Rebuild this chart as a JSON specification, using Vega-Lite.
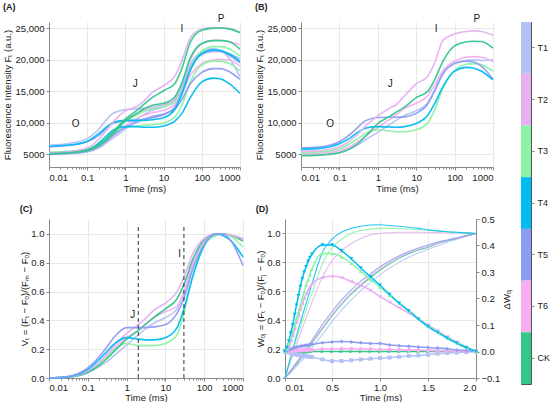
{
"$schema": "https://vega.github.io/schema/vega-lite/v6.json",
"background": "white",
"padding": {"left": 2, "top": 3, "right": 0, "bottom": 0},
"config": {
 "view": {"stroke": null},
 "font": "Liberation Sans",
 "axis": {"labelFontSize": 9.5, "titleFontSize": 9.5, "titleFontWeight": "normal", "labelColor": "#222", "titleColor": "#222", "domainColor": "#888", "tickColor": "#888", "tickSize": 3, "gridColor": "#e8e8e8", "labelPadding": 2, "titlePadding": 2, "labelOverlap": false},
 "title": {"fontSize": 9, "fontWeight": "bold", "anchor": "start", "frame": "bounds", "color": "#222"},
 "legend": {"disable": true}
},
"datasets": {
 "A": [
{"s":"a11","g":"T1","t":0.01,"v":5000},{"s":"a11","g":"T1","t":0.03,"v":5100},{"s":"a11","g":"T1","t":0.1,"v":5400},{"s":"a11","g":"T1","t":0.2,"v":6000},{"s":"a11","g":"T1","t":0.3,"v":6700},{"s":"a11","g":"T1","t":0.5,"v":7700},{"s":"a11","g":"T1","t":1,"v":9000},{"s":"a11","g":"T1","t":2,"v":10500},{"s":"a11","g":"T1","t":3,"v":11300},{"s":"a11","g":"T1","t":5,"v":12000},{"s":"a11","g":"T1","t":10,"v":12500},{"s":"a11","g":"T1","t":20,"v":13500},{"s":"a11","g":"T1","t":30,"v":15500},{"s":"a11","g":"T1","t":50,"v":19000},{"s":"a11","g":"T1","t":100,"v":20800},{"s":"a11","g":"T1","t":200,"v":21300},{"s":"a11","g":"T1","t":300,"v":21300},{"s":"a11","g":"T1","t":500,"v":21000},{"s":"a11","g":"T1","t":1000,"v":20200},
{"s":"a6","g":"T1","t":0.01,"v":6500},{"s":"a6","g":"T1","t":0.03,"v":6700},{"s":"a6","g":"T1","t":0.1,"v":7500},{"s":"a6","g":"T1","t":0.2,"v":9000},{"s":"a6","g":"T1","t":0.3,"v":10300},{"s":"a6","g":"T1","t":0.5,"v":11600},{"s":"a6","g":"T1","t":1,"v":12100},{"s":"a6","g":"T1","t":2,"v":12200},{"s":"a6","g":"T1","t":3,"v":12300},{"s":"a6","g":"T1","t":5,"v":12500},{"s":"a6","g":"T1","t":10,"v":12900},{"s":"a6","g":"T1","t":20,"v":13700},{"s":"a6","g":"T1","t":30,"v":15500},{"s":"a6","g":"T1","t":50,"v":19300},{"s":"a6","g":"T1","t":100,"v":21300},{"s":"a6","g":"T1","t":200,"v":21800},{"s":"a6","g":"T1","t":300,"v":21500},{"s":"a6","g":"T1","t":500,"v":20400},{"s":"a6","g":"T1","t":1000,"v":17300},
{"s":"a7","g":"T6","t":0.01,"v":5200},{"s":"a7","g":"T6","t":0.03,"v":5300},{"s":"a7","g":"T6","t":0.1,"v":5600},{"s":"a7","g":"T6","t":0.2,"v":6300},{"s":"a7","g":"T6","t":0.3,"v":7000},{"s":"a7","g":"T6","t":0.5,"v":8100},{"s":"a7","g":"T6","t":1,"v":9600},{"s":"a7","g":"T6","t":2,"v":10700},{"s":"a7","g":"T6","t":3,"v":11200},{"s":"a7","g":"T6","t":5,"v":11600},{"s":"a7","g":"T6","t":10,"v":12000},{"s":"a7","g":"T6","t":20,"v":13000},{"s":"a7","g":"T6","t":30,"v":14700},{"s":"a7","g":"T6","t":50,"v":17500},{"s":"a7","g":"T6","t":100,"v":19400},{"s":"a7","g":"T6","t":200,"v":20000},{"s":"a7","g":"T6","t":300,"v":20100},{"s":"a7","g":"T6","t":500,"v":20000},{"s":"a7","g":"T6","t":1000,"v":19000},
{"s":"a8","g":"T3","t":0.01,"v":5300},{"s":"a8","g":"T3","t":0.03,"v":5400},{"s":"a8","g":"T3","t":0.1,"v":5700},{"s":"a8","g":"T3","t":0.2,"v":6500},{"s":"a8","g":"T3","t":0.3,"v":7300},{"s":"a8","g":"T3","t":0.5,"v":8300},{"s":"a8","g":"T3","t":1,"v":9300},{"s":"a8","g":"T3","t":2,"v":9500},{"s":"a8","g":"T3","t":3,"v":9600},{"s":"a8","g":"T3","t":5,"v":9700},{"s":"a8","g":"T3","t":10,"v":10000},{"s":"a8","g":"T3","t":20,"v":11000},{"s":"a8","g":"T3","t":30,"v":12800},{"s":"a8","g":"T3","t":50,"v":16500},{"s":"a8","g":"T3","t":100,"v":19200},{"s":"a8","g":"T3","t":200,"v":19800},{"s":"a8","g":"T3","t":300,"v":19800},{"s":"a8","g":"T3","t":500,"v":19500},{"s":"a8","g":"T3","t":1000,"v":18300},
{"s":"a9","g":"T5","t":0.01,"v":5000},{"s":"a9","g":"T5","t":0.03,"v":5150},{"s":"a9","g":"T5","t":0.1,"v":5500},{"s":"a9","g":"T5","t":0.2,"v":6200},{"s":"a9","g":"T5","t":0.3,"v":7000},{"s":"a9","g":"T5","t":0.5,"v":8100},{"s":"a9","g":"T5","t":1,"v":9300},{"s":"a9","g":"T5","t":2,"v":10100},{"s":"a9","g":"T5","t":3,"v":10600},{"s":"a9","g":"T5","t":5,"v":11000},{"s":"a9","g":"T5","t":10,"v":11400},{"s":"a9","g":"T5","t":20,"v":12200},{"s":"a9","g":"T5","t":30,"v":13700},{"s":"a9","g":"T5","t":50,"v":16200},{"s":"a9","g":"T5","t":100,"v":18000},{"s":"a9","g":"T5","t":200,"v":18600},{"s":"a9","g":"T5","t":300,"v":18600},{"s":"a9","g":"T5","t":500,"v":18200},{"s":"a9","g":"T5","t":1000,"v":16900},
{"s":"a12","g":"T6","t":0.01,"v":5300},{"s":"a12","g":"T6","t":0.03,"v":5450},{"s":"a12","g":"T6","t":0.1,"v":5800},{"s":"a12","g":"T6","t":0.2,"v":6600},{"s":"a12","g":"T6","t":0.3,"v":7500},{"s":"a12","g":"T6","t":0.5,"v":8800},{"s":"a12","g":"T6","t":1,"v":10500},{"s":"a12","g":"T6","t":2,"v":11500},{"s":"a12","g":"T6","t":3,"v":12000},{"s":"a12","g":"T6","t":5,"v":12300},{"s":"a12","g":"T6","t":10,"v":12700},{"s":"a12","g":"T6","t":20,"v":13900},{"s":"a12","g":"T6","t":30,"v":16200},{"s":"a12","g":"T6","t":50,"v":20000},{"s":"a12","g":"T6","t":100,"v":22600},{"s":"a12","g":"T6","t":200,"v":23100},{"s":"a12","g":"T6","t":300,"v":23100},{"s":"a12","g":"T6","t":500,"v":22900},{"s":"a12","g":"T6","t":1000,"v":22400},
{"s":"a4","g":"T3","t":0.01,"v":5300},{"s":"a4","g":"T3","t":0.03,"v":5450},{"s":"a4","g":"T3","t":0.1,"v":5800},{"s":"a4","g":"T3","t":0.2,"v":6700},{"s":"a4","g":"T3","t":0.3,"v":7500},{"s":"a4","g":"T3","t":0.5,"v":8700},{"s":"a4","g":"T3","t":1,"v":10300},{"s":"a4","g":"T3","t":2,"v":11200},{"s":"a4","g":"T3","t":3,"v":11800},{"s":"a4","g":"T3","t":5,"v":12200},{"s":"a4","g":"T3","t":10,"v":12600},{"s":"a4","g":"T3","t":20,"v":13300},{"s":"a4","g":"T3","t":30,"v":15000},{"s":"a4","g":"T3","t":50,"v":18700},{"s":"a4","g":"T3","t":100,"v":21400},{"s":"a4","g":"T3","t":200,"v":22100},{"s":"a4","g":"T3","t":300,"v":22100},{"s":"a4","g":"T3","t":500,"v":21800},{"s":"a4","g":"T3","t":1000,"v":20600},
{"s":"a13","g":"T5","t":0.01,"v":6200},{"s":"a13","g":"T5","t":0.03,"v":6400},{"s":"a13","g":"T5","t":0.1,"v":7000},{"s":"a13","g":"T5","t":0.2,"v":8000},{"s":"a13","g":"T5","t":0.3,"v":9000},{"s":"a13","g":"T5","t":0.5,"v":10000},{"s":"a13","g":"T5","t":1,"v":10300},{"s":"a13","g":"T5","t":2,"v":10400},{"s":"a13","g":"T5","t":3,"v":10500},{"s":"a13","g":"T5","t":5,"v":10800},{"s":"a13","g":"T5","t":10,"v":11300},{"s":"a13","g":"T5","t":20,"v":12500},{"s":"a13","g":"T5","t":30,"v":14800},{"s":"a13","g":"T5","t":50,"v":18500},{"s":"a13","g":"T5","t":100,"v":21000},{"s":"a13","g":"T5","t":200,"v":21500},{"s":"a13","g":"T5","t":300,"v":21400},{"s":"a13","g":"T5","t":500,"v":20800},{"s":"a13","g":"T5","t":1000,"v":19500},
{"s":"a10","g":"T4","t":0.01,"v":5200},{"s":"a10","g":"T4","t":0.03,"v":5350},{"s":"a10","g":"T4","t":0.1,"v":5700},{"s":"a10","g":"T4","t":0.2,"v":6800},{"s":"a10","g":"T4","t":0.3,"v":7800},{"s":"a10","g":"T4","t":0.5,"v":8900},{"s":"a10","g":"T4","t":1,"v":9400},{"s":"a10","g":"T4","t":2,"v":9400},{"s":"a10","g":"T4","t":3,"v":9300},{"s":"a10","g":"T4","t":5,"v":9300},{"s":"a10","g":"T4","t":10,"v":9500},{"s":"a10","g":"T4","t":20,"v":10300},{"s":"a10","g":"T4","t":30,"v":11500},{"s":"a10","g":"T4","t":50,"v":14000},{"s":"a10","g":"T4","t":100,"v":16500},{"s":"a10","g":"T4","t":200,"v":17100},{"s":"a10","g":"T4","t":300,"v":17000},{"s":"a10","g":"T4","t":500,"v":16300},{"s":"a10","g":"T4","t":1000,"v":14700},
{"s":"a5","g":"T4","t":0.01,"v":6300},{"s":"a5","g":"T4","t":0.03,"v":6450},{"s":"a5","g":"T4","t":0.1,"v":7100},{"s":"a5","g":"T4","t":0.2,"v":8300},{"s":"a5","g":"T4","t":0.3,"v":9200},{"s":"a5","g":"T4","t":0.5,"v":10100},{"s":"a5","g":"T4","t":1,"v":10400},{"s":"a5","g":"T4","t":2,"v":10400},{"s":"a5","g":"T4","t":3,"v":10400},{"s":"a5","g":"T4","t":5,"v":10500},{"s":"a5","g":"T4","t":10,"v":10800},{"s":"a5","g":"T4","t":20,"v":12200},{"s":"a5","g":"T4","t":30,"v":14500},{"s":"a5","g":"T4","t":50,"v":18300},{"s":"a5","g":"T4","t":100,"v":21000},{"s":"a5","g":"T4","t":200,"v":21600},{"s":"a5","g":"T4","t":300,"v":21500},{"s":"a5","g":"T4","t":500,"v":21000},{"s":"a5","g":"T4","t":1000,"v":19800},
{"s":"a3","g":"CK","t":0.01,"v":5100},{"s":"a3","g":"CK","t":0.03,"v":5250},{"s":"a3","g":"CK","t":0.1,"v":5600},{"s":"a3","g":"CK","t":0.2,"v":6400},{"s":"a3","g":"CK","t":0.3,"v":7200},{"s":"a3","g":"CK","t":0.5,"v":8400},{"s":"a3","g":"CK","t":1,"v":10300},{"s":"a3","g":"CK","t":2,"v":11500},{"s":"a3","g":"CK","t":3,"v":12200},{"s":"a3","g":"CK","t":5,"v":12800},{"s":"a3","g":"CK","t":10,"v":13100},{"s":"a3","g":"CK","t":20,"v":14200},{"s":"a3","g":"CK","t":30,"v":16300},{"s":"a3","g":"CK","t":50,"v":20300},{"s":"a3","g":"CK","t":100,"v":22600},{"s":"a3","g":"CK","t":200,"v":23050},{"s":"a3","g":"CK","t":300,"v":23050},{"s":"a3","g":"CK","t":500,"v":22900},{"s":"a3","g":"CK","t":1000,"v":21700},
{"s":"a2","g":"T2","t":0.01,"v":5200},{"s":"a2","g":"T2","t":0.03,"v":5350},{"s":"a2","g":"T2","t":0.1,"v":6000},{"s":"a2","g":"T2","t":0.2,"v":7400},{"s":"a2","g":"T2","t":0.3,"v":8600},{"s":"a2","g":"T2","t":0.5,"v":10300},{"s":"a2","g":"T2","t":1,"v":11900},{"s":"a2","g":"T2","t":2,"v":12600},{"s":"a2","g":"T2","t":3,"v":13400},{"s":"a2","g":"T2","t":5,"v":14800},{"s":"a2","g":"T2","t":10,"v":15900},{"s":"a2","g":"T2","t":20,"v":17500},{"s":"a2","g":"T2","t":30,"v":19800},{"s":"a2","g":"T2","t":50,"v":23500},{"s":"a2","g":"T2","t":100,"v":24900},{"s":"a2","g":"T2","t":200,"v":25100},{"s":"a2","g":"T2","t":300,"v":25100},{"s":"a2","g":"T2","t":500,"v":24900},{"s":"a2","g":"T2","t":1000,"v":24400},
{"s":"a1","g":"CK","t":0.01,"v":5100},{"s":"a1","g":"CK","t":0.03,"v":5250},{"s":"a1","g":"CK","t":0.1,"v":5700},{"s":"a1","g":"CK","t":0.2,"v":6600},{"s":"a1","g":"CK","t":0.3,"v":7400},{"s":"a1","g":"CK","t":0.5,"v":8700},{"s":"a1","g":"CK","t":1,"v":10600},{"s":"a1","g":"CK","t":2,"v":12000},{"s":"a1","g":"CK","t":3,"v":12900},{"s":"a1","g":"CK","t":5,"v":14000},{"s":"a1","g":"CK","t":10,"v":15100},{"s":"a1","g":"CK","t":20,"v":16300},{"s":"a1","g":"CK","t":30,"v":18600},{"s":"a1","g":"CK","t":50,"v":22800},{"s":"a1","g":"CK","t":100,"v":24700},{"s":"a1","g":"CK","t":200,"v":25000},{"s":"a1","g":"CK","t":300,"v":25050},{"s":"a1","g":"CK","t":500,"v":24950},{"s":"a1","g":"CK","t":1000,"v":24300}
 ],
 "labA": [{"t":0.05,"v":9830,"lab":"O"},{"t":1.8,"v":16230,"lab":"J"},{"t":30,"v":24900,"lab":"I"},{"t":320,"v":26400,"lab":"P"}],
 "labB": [{"t":0.057,"v":9830,"lab":"O"},{"t":2.1,"v":16230,"lab":"J"},{"t":33,"v":24900,"lab":"I"},{"t":380,"v":26400,"lab":"P"}],
 "B": [
{"g":"T1","t":0.01,"v":4900},{"g":"T1","t":0.03,"v":4980},{"g":"T1","t":0.1,"v":5300},{"g":"T1","t":0.2,"v":5900},{"g":"T1","t":0.3,"v":6500},{"g":"T1","t":0.5,"v":7400},{"g":"T1","t":1,"v":8500},{"g":"T1","t":2,"v":9700},{"g":"T1","t":3,"v":10400},{"g":"T1","t":5,"v":11200},{"g":"T1","t":10,"v":11900},{"g":"T1","t":20,"v":13200},{"g":"T1","t":30,"v":15200},{"g":"T1","t":50,"v":18000},{"g":"T1","t":100,"v":19500},{"g":"T1","t":200,"v":19900},{"g":"T1","t":300,"v":20000},{"g":"T1","t":500,"v":19900},{"g":"T1","t":1000,"v":20000},
{"g":"T6","t":0.01,"v":5100},{"g":"T6","t":0.03,"v":5200},{"g":"T6","t":0.1,"v":5600},{"g":"T6","t":0.2,"v":6300},{"g":"T6","t":0.3,"v":7000},{"g":"T6","t":0.5,"v":8000},{"g":"T6","t":1,"v":9300},{"g":"T6","t":2,"v":10500},{"g":"T6","t":3,"v":11300},{"g":"T6","t":5,"v":12300},{"g":"T6","t":10,"v":13100},{"g":"T6","t":20,"v":14300},{"g":"T6","t":30,"v":16000},{"g":"T6","t":50,"v":18300},{"g":"T6","t":100,"v":19800},{"g":"T6","t":200,"v":20400},{"g":"T6","t":300,"v":20500},{"g":"T6","t":500,"v":20400},{"g":"T6","t":1000,"v":19700},
{"g":"T3","t":0.01,"v":5300},{"g":"T3","t":0.03,"v":5400},{"g":"T3","t":0.1,"v":5900},{"g":"T3","t":0.2,"v":6800},{"g":"T3","t":0.3,"v":7500},{"g":"T3","t":0.5,"v":8400},{"g":"T3","t":1,"v":8900},{"g":"T3","t":2,"v":8700},{"g":"T3","t":3,"v":8600},{"g":"T3","t":5,"v":8600},{"g":"T3","t":10,"v":8900},{"g":"T3","t":20,"v":10000},{"g":"T3","t":30,"v":12000},{"g":"T3","t":50,"v":15500},{"g":"T3","t":100,"v":18300},{"g":"T3","t":200,"v":19300},{"g":"T3","t":300,"v":19400},{"g":"T3","t":500,"v":19200},{"g":"T3","t":1000,"v":18200},
{"g":"T5","t":0.01,"v":6000},{"g":"T5","t":0.03,"v":6150},{"g":"T5","t":0.1,"v":7000},{"g":"T5","t":0.2,"v":8300},{"g":"T5","t":0.3,"v":9300},{"g":"T5","t":0.5,"v":10400},{"g":"T5","t":1,"v":10850},{"g":"T5","t":2,"v":10900},{"g":"T5","t":3,"v":10900},{"g":"T5","t":5,"v":10950},{"g":"T5","t":10,"v":11500},{"g":"T5","t":20,"v":13000},{"g":"T5","t":30,"v":15000},{"g":"T5","t":50,"v":17800},{"g":"T5","t":100,"v":19400},{"g":"T5","t":200,"v":19800},{"g":"T5","t":300,"v":19700},{"g":"T5","t":500,"v":19000},{"g":"T5","t":1000,"v":16900},
{"g":"T4","t":0.01,"v":5800},{"g":"T4","t":0.03,"v":5950},{"g":"T4","t":0.1,"v":6700},{"g":"T4","t":0.2,"v":7700},{"g":"T4","t":0.3,"v":8500},{"g":"T4","t":0.5,"v":9200},{"g":"T4","t":1,"v":9400},{"g":"T4","t":2,"v":9350},{"g":"T4","t":3,"v":9300},{"g":"T4","t":5,"v":9400},{"g":"T4","t":10,"v":9900},{"g":"T4","t":20,"v":11200},{"g":"T4","t":30,"v":13000},{"g":"T4","t":50,"v":15800},{"g":"T4","t":100,"v":18200},{"g":"T4","t":200,"v":18800},{"g":"T4","t":300,"v":18700},{"g":"T4","t":500,"v":18200},{"g":"T4","t":1000,"v":16800},
{"g":"CK","t":0.01,"v":4800},{"g":"CK","t":0.03,"v":4880},{"g":"CK","t":0.1,"v":5250},{"g":"CK","t":0.2,"v":6000},{"g":"CK","t":0.3,"v":6700},{"g":"CK","t":0.5,"v":8000},{"g":"CK","t":1,"v":9900},{"g":"CK","t":2,"v":11000},{"g":"CK","t":3,"v":11700},{"g":"CK","t":5,"v":12500},{"g":"CK","t":10,"v":14000},{"g":"CK","t":20,"v":15000},{"g":"CK","t":30,"v":16800},{"g":"CK","t":50,"v":19800},{"g":"CK","t":100,"v":22200},{"g":"CK","t":200,"v":22850},{"g":"CK","t":300,"v":22950},{"g":"CK","t":500,"v":22900},{"g":"CK","t":1000,"v":21850},
{"g":"T2","t":0.01,"v":5500},{"g":"T2","t":0.03,"v":5600},{"g":"T2","t":0.1,"v":6200},{"g":"T2","t":0.2,"v":7300},{"g":"T2","t":0.3,"v":8200},{"g":"T2","t":0.5,"v":9600},{"g":"T2","t":1,"v":11100},{"g":"T2","t":2,"v":12300},{"g":"T2","t":3,"v":12900},{"g":"T2","t":5,"v":14300},{"g":"T2","t":10,"v":16200},{"g":"T2","t":20,"v":17400},{"g":"T2","t":30,"v":19500},{"g":"T2","t":50,"v":23100},{"g":"T2","t":100,"v":24100},{"g":"T2","t":200,"v":24500},{"g":"T2","t":300,"v":24600},{"g":"T2","t":500,"v":24500},{"g":"T2","t":1000,"v":23900}
 ],
 "C": [
{"g":"T1","t":0.01,"v":0},{"g":"T1","t":0.03,"v":0.005},{"g":"T1","t":0.1,"v":0.035},{"g":"T1","t":0.2,"v":0.08},{"g":"T1","t":0.3,"v":0.11},{"g":"T1","t":0.5,"v":0.16},{"g":"T1","t":1,"v":0.23},{"g":"T1","t":2,"v":0.3},{"g":"T1","t":3,"v":0.34},{"g":"T1","t":5,"v":0.38},{"g":"T1","t":10,"v":0.42},{"g":"T1","t":20,"v":0.48},{"g":"T1","t":30,"v":0.58},{"g":"T1","t":50,"v":0.78},{"g":"T1","t":100,"v":0.95},{"g":"T1","t":200,"v":0.99},{"g":"T1","t":300,"v":1.0},{"g":"T1","t":500,"v":0.99},{"g":"T1","t":1000,"v":0.97},
{"g":"T6","t":0.01,"v":0},{"g":"T6","t":0.03,"v":0.006},{"g":"T6","t":0.1,"v":0.045},{"g":"T6","t":0.2,"v":0.1},{"g":"T6","t":0.3,"v":0.145},{"g":"T6","t":0.5,"v":0.21},{"g":"T6","t":1,"v":0.28},{"g":"T6","t":2,"v":0.33},{"g":"T6","t":3,"v":0.37},{"g":"T6","t":5,"v":0.42},{"g":"T6","t":10,"v":0.46},{"g":"T6","t":20,"v":0.5},{"g":"T6","t":30,"v":0.6},{"g":"T6","t":50,"v":0.8},{"g":"T6","t":100,"v":0.95},{"g":"T6","t":200,"v":0.99},{"g":"T6","t":300,"v":1.0},{"g":"T6","t":500,"v":0.99},{"g":"T6","t":1000,"v":0.96},
{"g":"T3","t":0.01,"v":0},{"g":"T3","t":0.03,"v":0.007},{"g":"T3","t":0.1,"v":0.05},{"g":"T3","t":0.2,"v":0.1},{"g":"T3","t":0.3,"v":0.14},{"g":"T3","t":0.5,"v":0.2},{"g":"T3","t":1,"v":0.24},{"g":"T3","t":2,"v":0.225},{"g":"T3","t":3,"v":0.225},{"g":"T3","t":5,"v":0.225},{"g":"T3","t":10,"v":0.24},{"g":"T3","t":20,"v":0.3},{"g":"T3","t":30,"v":0.45},{"g":"T3","t":50,"v":0.7},{"g":"T3","t":100,"v":0.92},{"g":"T3","t":200,"v":0.99},{"g":"T3","t":300,"v":1.0},{"g":"T3","t":500,"v":0.98},{"g":"T3","t":1000,"v":0.91},
{"g":"CK","t":0.01,"v":0},{"g":"CK","t":0.03,"v":0.006},{"g":"CK","t":0.1,"v":0.04},{"g":"CK","t":0.2,"v":0.09},{"g":"CK","t":0.3,"v":0.13},{"g":"CK","t":0.5,"v":0.19},{"g":"CK","t":1,"v":0.27},{"g":"CK","t":2,"v":0.33},{"g":"CK","t":3,"v":0.37},{"g":"CK","t":5,"v":0.42},{"g":"CK","t":10,"v":0.48},{"g":"CK","t":20,"v":0.55},{"g":"CK","t":30,"v":0.65},{"g":"CK","t":50,"v":0.82},{"g":"CK","t":100,"v":0.96},{"g":"CK","t":200,"v":1.0},{"g":"CK","t":300,"v":1.0},{"g":"CK","t":500,"v":0.99},{"g":"CK","t":1000,"v":0.95},
{"g":"T2","t":0.01,"v":0},{"g":"T2","t":0.03,"v":0.007},{"g":"T2","t":0.1,"v":0.05},{"g":"T2","t":0.2,"v":0.11},{"g":"T2","t":0.3,"v":0.16},{"g":"T2","t":0.5,"v":0.23},{"g":"T2","t":1,"v":0.31},{"g":"T2","t":2,"v":0.37},{"g":"T2","t":3,"v":0.41},{"g":"T2","t":5,"v":0.47},{"g":"T2","t":10,"v":0.52},{"g":"T2","t":20,"v":0.6},{"g":"T2","t":30,"v":0.7},{"g":"T2","t":50,"v":0.86},{"g":"T2","t":100,"v":0.97},{"g":"T2","t":200,"v":1.0},{"g":"T2","t":300,"v":1.0},{"g":"T2","t":500,"v":0.99},{"g":"T2","t":1000,"v":0.97},
{"g":"T4","t":0.01,"v":0},{"g":"T4","t":0.03,"v":0.008},{"g":"T4","t":0.1,"v":0.06},{"g":"T4","t":0.2,"v":0.13},{"g":"T4","t":0.3,"v":0.18},{"g":"T4","t":0.5,"v":0.24},{"g":"T4","t":1,"v":0.28},{"g":"T4","t":2,"v":0.27},{"g":"T4","t":3,"v":0.265},{"g":"T4","t":5,"v":0.265},{"g":"T4","t":10,"v":0.28},{"g":"T4","t":20,"v":0.35},{"g":"T4","t":30,"v":0.48},{"g":"T4","t":50,"v":0.7},{"g":"T4","t":100,"v":0.92},{"g":"T4","t":200,"v":1.0},{"g":"T4","t":300,"v":0.99},{"g":"T4","t":500,"v":0.95},{"g":"T4","t":1000,"v":0.84},
{"g":"T5","t":0.01,"v":0},{"g":"T5","t":0.03,"v":0.01},{"g":"T5","t":0.1,"v":0.07},{"g":"T5","t":0.2,"v":0.15},{"g":"T5","t":0.3,"v":0.21},{"g":"T5","t":0.5,"v":0.29},{"g":"T5","t":1,"v":0.35},{"g":"T5","t":2,"v":0.35},{"g":"T5","t":3,"v":0.35},{"g":"T5","t":5,"v":0.355},{"g":"T5","t":10,"v":0.37},{"g":"T5","t":20,"v":0.45},{"g":"T5","t":30,"v":0.55},{"g":"T5","t":50,"v":0.75},{"g":"T5","t":100,"v":0.93},{"g":"T5","t":200,"v":1.0},{"g":"T5","t":300,"v":1.0},{"g":"T5","t":500,"v":0.95},{"g":"T5","t":1000,"v":0.78}
 ],
 "cRules": [{"t":2,"lab":"J","v":0.44},{"t":30,"lab":"I","v":0.86}],
 "W": [
{"g":"T1","t":0.01,"v":0},{"g":"T1","t":0.05,"v":0.025},{"g":"T1","t":0.1,"v":0.06},{"g":"T1","t":0.15,"v":0.095},{"g":"T1","t":0.2,"v":0.13},{"g":"T1","t":0.25,"v":0.175},{"g":"T1","t":0.3,"v":0.22},{"g":"T1","t":0.4,"v":0.3},{"g":"T1","t":0.5,"v":0.39},{"g":"T1","t":0.6,"v":0.47},{"g":"T1","t":0.7,"v":0.54},{"g":"T1","t":0.8,"v":0.605},{"g":"T1","t":0.9,"v":0.66},{"g":"T1","t":1.0,"v":0.715},{"g":"T1","t":1.1,"v":0.76},{"g":"T1","t":1.2,"v":0.8},{"g":"T1","t":1.3,"v":0.835},{"g":"T1","t":1.4,"v":0.865},{"g":"T1","t":1.5,"v":0.89},{"g":"T1","t":1.6,"v":0.915},{"g":"T1","t":1.7,"v":0.94},{"g":"T1","t":1.8,"v":0.96},{"g":"T1","t":1.9,"v":0.98},{"g":"T1","t":2.0,"v":1.0},
{"g":"CK","t":0.01,"v":0},{"g":"CK","t":0.05,"v":0.03},{"g":"CK","t":0.1,"v":0.07},{"g":"CK","t":0.15,"v":0.11},{"g":"CK","t":0.2,"v":0.155},{"g":"CK","t":0.25,"v":0.2},{"g":"CK","t":0.3,"v":0.25},{"g":"CK","t":0.4,"v":0.34},{"g":"CK","t":0.5,"v":0.43},{"g":"CK","t":0.6,"v":0.51},{"g":"CK","t":0.7,"v":0.58},{"g":"CK","t":0.8,"v":0.64},{"g":"CK","t":0.9,"v":0.695},{"g":"CK","t":1.0,"v":0.745},{"g":"CK","t":1.1,"v":0.79},{"g":"CK","t":1.2,"v":0.83},{"g":"CK","t":1.3,"v":0.86},{"g":"CK","t":1.4,"v":0.885},{"g":"CK","t":1.5,"v":0.905},{"g":"CK","t":1.6,"v":0.93},{"g":"CK","t":1.7,"v":0.95},{"g":"CK","t":1.8,"v":0.965},{"g":"CK","t":1.9,"v":0.985},{"g":"CK","t":2.0,"v":1.0},
{"g":"T6","t":0.01,"v":0},{"g":"T6","t":0.05,"v":0.032},{"g":"T6","t":0.1,"v":0.075},{"g":"T6","t":0.15,"v":0.118},{"g":"T6","t":0.2,"v":0.163},{"g":"T6","t":0.25,"v":0.21},{"g":"T6","t":0.3,"v":0.26},{"g":"T6","t":0.4,"v":0.35},{"g":"T6","t":0.5,"v":0.44},{"g":"T6","t":0.6,"v":0.52},{"g":"T6","t":0.7,"v":0.59},{"g":"T6","t":0.8,"v":0.65},{"g":"T6","t":0.9,"v":0.705},{"g":"T6","t":1.0,"v":0.755},{"g":"T6","t":1.1,"v":0.8},{"g":"T6","t":1.2,"v":0.838},{"g":"T6","t":1.3,"v":0.868},{"g":"T6","t":1.4,"v":0.892},{"g":"T6","t":1.5,"v":0.912},{"g":"T6","t":1.6,"v":0.935},{"g":"T6","t":1.7,"v":0.953},{"g":"T6","t":1.8,"v":0.967},{"g":"T6","t":1.9,"v":0.986},{"g":"T6","t":2.0,"v":1.0},
{"g":"T5","t":0.01,"v":0},{"g":"T5","t":0.05,"v":0.035},{"g":"T5","t":0.1,"v":0.08},{"g":"T5","t":0.15,"v":0.125},{"g":"T5","t":0.2,"v":0.17},{"g":"T5","t":0.25,"v":0.22},{"g":"T5","t":0.3,"v":0.27},{"g":"T5","t":0.4,"v":0.37},{"g":"T5","t":0.5,"v":0.46},{"g":"T5","t":0.6,"v":0.54},{"g":"T5","t":0.7,"v":0.61},{"g":"T5","t":0.8,"v":0.67},{"g":"T5","t":0.9,"v":0.72},{"g":"T5","t":1.0,"v":0.77},{"g":"T5","t":1.1,"v":0.81},{"g":"T5","t":1.2,"v":0.845},{"g":"T5","t":1.3,"v":0.875},{"g":"T5","t":1.4,"v":0.9},{"g":"T5","t":1.5,"v":0.92},{"g":"T5","t":1.6,"v":0.94},{"g":"T5","t":1.7,"v":0.955},{"g":"T5","t":1.8,"v":0.97},{"g":"T5","t":1.9,"v":0.985},{"g":"T5","t":2.0,"v":1.0},
{"g":"T2","t":0.01,"v":0},{"g":"T2","t":0.05,"v":0.08},{"g":"T2","t":0.1,"v":0.17},{"g":"T2","t":0.15,"v":0.27},{"g":"T2","t":0.2,"v":0.36},{"g":"T2","t":0.25,"v":0.45},{"g":"T2","t":0.3,"v":0.54},{"g":"T2","t":0.4,"v":0.7},{"g":"T2","t":0.5,"v":0.81},{"g":"T2","t":0.6,"v":0.88},{"g":"T2","t":0.7,"v":0.93},{"g":"T2","t":0.8,"v":0.965},{"g":"T2","t":0.9,"v":0.99},{"g":"T2","t":1.0,"v":1.0},{"g":"T2","t":1.1,"v":1.005},{"g":"T2","t":1.2,"v":1.008},{"g":"T2","t":1.3,"v":1.008},{"g":"T2","t":1.4,"v":1.008},{"g":"T2","t":1.5,"v":1.007},{"g":"T2","t":1.6,"v":1.006},{"g":"T2","t":1.7,"v":1.005},{"g":"T2","t":1.8,"v":1.003},{"g":"T2","t":1.9,"v":1.002},{"g":"T2","t":2.0,"v":1.0},
{"g":"T3","t":0.01,"v":0},{"g":"T3","t":0.05,"v":0.09},{"g":"T3","t":0.1,"v":0.2},{"g":"T3","t":0.15,"v":0.31},{"g":"T3","t":0.2,"v":0.41},{"g":"T3","t":0.25,"v":0.51},{"g":"T3","t":0.3,"v":0.6},{"g":"T3","t":0.4,"v":0.79},{"g":"T3","t":0.5,"v":0.9},{"g":"T3","t":0.6,"v":0.96},{"g":"T3","t":0.7,"v":1.0},{"g":"T3","t":0.8,"v":1.02},{"g":"T3","t":0.9,"v":1.03},{"g":"T3","t":1.0,"v":1.035},{"g":"T3","t":1.1,"v":1.035},{"g":"T3","t":1.2,"v":1.033},{"g":"T3","t":1.3,"v":1.03},{"g":"T3","t":1.4,"v":1.027},{"g":"T3","t":1.5,"v":1.022},{"g":"T3","t":1.6,"v":1.017},{"g":"T3","t":1.7,"v":1.012},{"g":"T3","t":1.8,"v":1.008},{"g":"T3","t":1.9,"v":1.004},{"g":"T3","t":2.0,"v":1.0},
{"g":"T4","t":0.01,"v":0},{"g":"T4","t":0.05,"v":0.1},{"g":"T4","t":0.1,"v":0.22},{"g":"T4","t":0.15,"v":0.34},{"g":"T4","t":0.2,"v":0.45},{"g":"T4","t":0.25,"v":0.56},{"g":"T4","t":0.3,"v":0.67},{"g":"T4","t":0.4,"v":0.87},{"g":"T4","t":0.5,"v":0.96},{"g":"T4","t":0.6,"v":1.01},{"g":"T4","t":0.7,"v":1.035},{"g":"T4","t":0.8,"v":1.05},{"g":"T4","t":0.9,"v":1.058},{"g":"T4","t":1.0,"v":1.06},{"g":"T4","t":1.1,"v":1.055},{"g":"T4","t":1.2,"v":1.05},{"g":"T4","t":1.3,"v":1.043},{"g":"T4","t":1.4,"v":1.035},{"g":"T4","t":1.5,"v":1.025},{"g":"T4","t":1.6,"v":1.018},{"g":"T4","t":1.7,"v":1.012},{"g":"T4","t":1.8,"v":1.008},{"g":"T4","t":1.9,"v":1.004},{"g":"T4","t":2.0,"v":1.0}
 ],
 "dW": [
{"g":"CK","t":0.01,"v":0},{"g":"CK","t":0.03,"v":0},{"g":"CK","t":0.05,"v":0},{"g":"CK","t":0.07,"v":0},{"g":"CK","t":0.09,"v":0},{"g":"CK","t":0.11,"v":0},{"g":"CK","t":0.13,"v":0},{"g":"CK","t":0.15,"v":0},{"g":"CK","t":0.17,"v":0},{"g":"CK","t":0.19,"v":0},{"g":"CK","t":0.21,"v":0},{"g":"CK","t":0.23,"v":0},{"g":"CK","t":0.25,"v":0},{"g":"CK","t":0.27,"v":0},{"g":"CK","t":0.29,"v":0},{"g":"CK","t":0.4,"v":0},{"g":"CK","t":0.5,"v":0},{"g":"CK","t":0.6,"v":0},{"g":"CK","t":0.7,"v":0},{"g":"CK","t":0.8,"v":0},{"g":"CK","t":0.9,"v":0},{"g":"CK","t":1.0,"v":0},{"g":"CK","t":1.1,"v":0},{"g":"CK","t":1.2,"v":0},{"g":"CK","t":1.3,"v":0},{"g":"CK","t":1.4,"v":0},{"g":"CK","t":1.5,"v":0},{"g":"CK","t":1.6,"v":0},{"g":"CK","t":1.7,"v":0},{"g":"CK","t":1.8,"v":0},{"g":"CK","t":1.9,"v":0},{"g":"CK","t":2.0,"v":0},
{"g":"T1","t":0.01,"v":0},{"g":"T1","t":0.03,"v":-0.002},{"g":"T1","t":0.05,"v":-0.004},{"g":"T1","t":0.07,"v":-0.006},{"g":"T1","t":0.09,"v":-0.008},{"g":"T1","t":0.11,"v":-0.01},{"g":"T1","t":0.13,"v":-0.012},{"g":"T1","t":0.15,"v":-0.013},{"g":"T1","t":0.17,"v":-0.015},{"g":"T1","t":0.19,"v":-0.016},{"g":"T1","t":0.21,"v":-0.017},{"g":"T1","t":0.23,"v":-0.018},{"g":"T1","t":0.25,"v":-0.019},{"g":"T1","t":0.27,"v":-0.02},{"g":"T1","t":0.29,"v":-0.021},{"g":"T1","t":0.4,"v":-0.03},{"g":"T1","t":0.5,"v":-0.036},{"g":"T1","t":0.6,"v":-0.036},{"g":"T1","t":0.7,"v":-0.033},{"g":"T1","t":0.8,"v":-0.03},{"g":"T1","t":0.9,"v":-0.027},{"g":"T1","t":1.0,"v":-0.025},{"g":"T1","t":1.1,"v":-0.023},{"g":"T1","t":1.2,"v":-0.02},{"g":"T1","t":1.3,"v":-0.017},{"g":"T1","t":1.4,"v":-0.015},{"g":"T1","t":1.5,"v":-0.012},{"g":"T1","t":1.6,"v":-0.008},{"g":"T1","t":1.7,"v":-0.006},{"g":"T1","t":1.8,"v":-0.004},{"g":"T1","t":1.9,"v":-0.002},{"g":"T1","t":2.0,"v":0},
{"g":"T6","t":0.01,"v":0},{"g":"T6","t":0.03,"v":0.001},{"g":"T6","t":0.05,"v":0.002},{"g":"T6","t":0.07,"v":0.002},{"g":"T6","t":0.09,"v":0.003},{"g":"T6","t":0.11,"v":0.003},{"g":"T6","t":0.13,"v":0.004},{"g":"T6","t":0.15,"v":0.004},{"g":"T6","t":0.17,"v":0.005},{"g":"T6","t":0.19,"v":0.005},{"g":"T6","t":0.21,"v":0.006},{"g":"T6","t":0.23,"v":0.006},{"g":"T6","t":0.25,"v":0.006},{"g":"T6","t":0.27,"v":0.007},{"g":"T6","t":0.29,"v":0.007},{"g":"T6","t":0.4,"v":0.009},{"g":"T6","t":0.5,"v":0.009},{"g":"T6","t":0.6,"v":0.01},{"g":"T6","t":0.7,"v":0.01},{"g":"T6","t":0.8,"v":0.009},{"g":"T6","t":0.9,"v":0.009},{"g":"T6","t":1.0,"v":0.008},{"g":"T6","t":1.1,"v":0.008},{"g":"T6","t":1.2,"v":0.007},{"g":"T6","t":1.3,"v":0.006},{"g":"T6","t":1.4,"v":0.005},{"g":"T6","t":1.5,"v":0.004},{"g":"T6","t":1.6,"v":0.003},{"g":"T6","t":1.7,"v":0.002},{"g":"T6","t":1.8,"v":0.001},{"g":"T6","t":1.9,"v":0.001},{"g":"T6","t":2.0,"v":0},
{"g":"T5","t":0.01,"v":0},{"g":"T5","t":0.03,"v":0.003},{"g":"T5","t":0.05,"v":0.006},{"g":"T5","t":0.07,"v":0.009},{"g":"T5","t":0.09,"v":0.012},{"g":"T5","t":0.11,"v":0.014},{"g":"T5","t":0.13,"v":0.016},{"g":"T5","t":0.15,"v":0.018},{"g":"T5","t":0.17,"v":0.02},{"g":"T5","t":0.19,"v":0.021},{"g":"T5","t":0.21,"v":0.022},{"g":"T5","t":0.23,"v":0.024},{"g":"T5","t":0.25,"v":0.025},{"g":"T5","t":0.27,"v":0.026},{"g":"T5","t":0.29,"v":0.027},{"g":"T5","t":0.4,"v":0.033},{"g":"T5","t":0.5,"v":0.036},{"g":"T5","t":0.6,"v":0.038},{"g":"T5","t":0.7,"v":0.036},{"g":"T5","t":0.8,"v":0.033},{"g":"T5","t":0.9,"v":0.03},{"g":"T5","t":1.0,"v":0.03},{"g":"T5","t":1.1,"v":0.025},{"g":"T5","t":1.2,"v":0.022},{"g":"T5","t":1.3,"v":0.02},{"g":"T5","t":1.4,"v":0.017},{"g":"T5","t":1.5,"v":0.015},{"g":"T5","t":1.6,"v":0.013},{"g":"T5","t":1.7,"v":0.01},{"g":"T5","t":1.8,"v":0.006},{"g":"T5","t":1.9,"v":0.003},{"g":"T5","t":2.0,"v":0},
{"g":"T2","t":0.01,"v":0},{"g":"T2","t":0.03,"v":0.008},{"g":"T2","t":0.05,"v":0.02},{"g":"T2","t":0.07,"v":0.04},{"g":"T2","t":0.09,"v":0.06},{"g":"T2","t":0.11,"v":0.085},{"g":"T2","t":0.13,"v":0.11},{"g":"T2","t":0.15,"v":0.135},{"g":"T2","t":0.17,"v":0.16},{"g":"T2","t":0.19,"v":0.18},{"g":"T2","t":0.21,"v":0.2},{"g":"T2","t":0.23,"v":0.218},{"g":"T2","t":0.25,"v":0.233},{"g":"T2","t":0.27,"v":0.245},{"g":"T2","t":0.29,"v":0.255},{"g":"T2","t":0.4,"v":0.279},{"g":"T2","t":0.5,"v":0.284},{"g":"T2","t":0.6,"v":0.279},{"g":"T2","t":0.7,"v":0.264},{"g":"T2","t":0.8,"v":0.25},{"g":"T2","t":0.9,"v":0.231},{"g":"T2","t":1.0,"v":0.207},{"g":"T2","t":1.1,"v":0.186},{"g":"T2","t":1.2,"v":0.165},{"g":"T2","t":1.3,"v":0.145},{"g":"T2","t":1.4,"v":0.123},{"g":"T2","t":1.5,"v":0.1},{"g":"T2","t":1.6,"v":0.078},{"g":"T2","t":1.7,"v":0.056},{"g":"T2","t":1.8,"v":0.036},{"g":"T2","t":1.9,"v":0.017},{"g":"T2","t":2.0,"v":0},
{"g":"T3","t":0.01,"v":0},{"g":"T3","t":0.03,"v":0.01},{"g":"T3","t":0.05,"v":0.03},{"g":"T3","t":0.07,"v":0.05},{"g":"T3","t":0.09,"v":0.075},{"g":"T3","t":0.11,"v":0.1},{"g":"T3","t":0.13,"v":0.125},{"g":"T3","t":0.15,"v":0.15},{"g":"T3","t":0.17,"v":0.175},{"g":"T3","t":0.19,"v":0.2},{"g":"T3","t":0.21,"v":0.225},{"g":"T3","t":0.23,"v":0.25},{"g":"T3","t":0.25,"v":0.27},{"g":"T3","t":0.27,"v":0.29},{"g":"T3","t":0.29,"v":0.31},{"g":"T3","t":0.4,"v":0.37},{"g":"T3","t":0.5,"v":0.37},{"g":"T3","t":0.6,"v":0.357},{"g":"T3","t":0.7,"v":0.333},{"g":"T3","t":0.8,"v":0.303},{"g":"T3","t":0.9,"v":0.272},{"g":"T3","t":1.0,"v":0.243},{"g":"T3","t":1.1,"v":0.212},{"g":"T3","t":1.2,"v":0.183},{"g":"T3","t":1.3,"v":0.155},{"g":"T3","t":1.4,"v":0.125},{"g":"T3","t":1.5,"v":0.097},{"g":"T3","t":1.6,"v":0.074},{"g":"T3","t":1.7,"v":0.053},{"g":"T3","t":1.8,"v":0.034},{"g":"T3","t":1.9,"v":0.016},{"g":"T3","t":2.0,"v":0},
{"g":"T4","t":0.01,"v":0},{"g":"T4","t":0.03,"v":0.015},{"g":"T4","t":0.05,"v":0.04},{"g":"T4","t":0.07,"v":0.07},{"g":"T4","t":0.09,"v":0.1},{"g":"T4","t":0.11,"v":0.14},{"g":"T4","t":0.13,"v":0.175},{"g":"T4","t":0.15,"v":0.21},{"g":"T4","t":0.17,"v":0.245},{"g":"T4","t":0.19,"v":0.275},{"g":"T4","t":0.21,"v":0.3},{"g":"T4","t":0.23,"v":0.32},{"g":"T4","t":0.25,"v":0.34},{"g":"T4","t":0.27,"v":0.355},{"g":"T4","t":0.29,"v":0.367},{"g":"T4","t":0.4,"v":0.402},{"g":"T4","t":0.5,"v":0.402},{"g":"T4","t":0.6,"v":0.38},{"g":"T4","t":0.7,"v":0.35},{"g":"T4","t":0.8,"v":0.315},{"g":"T4","t":0.9,"v":0.282},{"g":"T4","t":1.0,"v":0.25},{"g":"T4","t":1.1,"v":0.215},{"g":"T4","t":1.2,"v":0.182},{"g":"T4","t":1.3,"v":0.153},{"g":"T4","t":1.4,"v":0.122},{"g":"T4","t":1.5,"v":0.094},{"g":"T4","t":1.6,"v":0.072},{"g":"T4","t":1.7,"v":0.05},{"g":"T4","t":1.8,"v":0.031},{"g":"T4","t":1.9,"v":0.014},{"g":"T4","t":2.0,"v":0}
 ],
 "leg": [{"g":"T1"},{"g":"T2"},{"g":"T3"},{"g":"T4"},{"g":"T5"},{"g":"T6"},{"g":"CK"}]
},
"spacing": 8,
"hconcat": [
 {"vconcat": [
  {"hconcat": [
   {"title": {"text": "(A)", "offset": 2},
    "width": 191, "height": 145,
    "encoding": {
     "x": {"field": "t", "type": "quantitative", "scale": {"type": "log", "domain": [0.01, 1000], "nice": false},
      "axis": {"title": "Time (ms)", "values": [0.01,0.02,0.03,0.04,0.05,0.06,0.07,0.08,0.09,0.1,0.2,0.3,0.4,0.5,0.6,0.7,0.8,0.9,1,2,3,4,5,6,7,8,9,10,20,30,40,50,60,70,80,90,100,200,300,400,500,600,700,800,900,1000], "format": "~g",
       "labelExpr": "indexof([0.01,0.1,1,10,100,1000], datum.value) >= 0 ? datum.label : ''",
       "gridOpacity": {"condition": {"test": "indexof([0.01,0.1,1,10,100,1000], datum.value) >= 0", "value": 1}, "value": 0},
       "tickSize": {"condition": {"test": "indexof([0.01,0.1,1,10,100,1000], datum.value) >= 0", "value": 3}, "value": 2}}},
     "y": {"field": "v", "type": "quantitative", "scale": {"domain": [3000, 26000], "nice": false, "zero": false},
      "axis": {"title": "Fluorescence Intensity Fₜ (a.u.)", "values": [5000, 10000, 15000, 20000, 25000], "labelExpr": "datum.value < 10000 ? format(datum.value, 'd') : format(datum.value, ',')"}}
    },
    "layer": [
     {"data": {"name": "A"},
      "mark": {"type": "line", "strokeWidth": 1.6, "interpolate": "monotone", "opacity": 0.95},
      "encoding": {
       "color": {"field": "g", "type": "nominal", "scale": {"domain": ["T1","T2","T3","T4","T5","T6","CK"], "range": ["#b3c1f7","#e6b0f2","#8cf2a6","#00bcf2","#8c9cf2","#f7aef0","#33c78a"]}, "legend": null},
       "detail": {"field": "s"}
      }},
     {"data": {"name": "labA"},
      "mark": {"type": "text", "fontSize": 10, "color": "#222"},
      "encoding": {"text": {"field": "lab"}}}
    ]},
   {"title": {"text": "(B)", "offset": 2},
    "width": 192, "height": 145,
    "encoding": {
     "x": {"field": "t", "type": "quantitative", "scale": {"type": "log", "domain": [0.01, 1000], "nice": false},
      "axis": {"title": "Time (ms)", "values": [0.01,0.02,0.03,0.04,0.05,0.06,0.07,0.08,0.09,0.1,0.2,0.3,0.4,0.5,0.6,0.7,0.8,0.9,1,2,3,4,5,6,7,8,9,10,20,30,40,50,60,70,80,90,100,200,300,400,500,600,700,800,900,1000], "format": "~g",
       "labelExpr": "indexof([0.01,0.1,1,10,100,1000], datum.value) >= 0 ? datum.label : ''",
       "gridOpacity": {"condition": {"test": "indexof([0.01,0.1,1,10,100,1000], datum.value) >= 0", "value": 1}, "value": 0},
       "tickSize": {"condition": {"test": "indexof([0.01,0.1,1,10,100,1000], datum.value) >= 0", "value": 3}, "value": 2}}},
     "y": {"field": "v", "type": "quantitative", "scale": {"domain": [3000, 26000], "nice": false, "zero": false},
      "axis": {"title": "Fluorescence Intensity Fₜ (a.u.)", "values": [5000, 10000, 15000, 20000, 25000], "labelExpr": "datum.value < 10000 ? format(datum.value, 'd') : format(datum.value, ',')"}}
    },
    "layer": [
     {"data": {"name": "B"},
      "mark": {"type": "line", "strokeWidth": 1.6, "interpolate": "monotone", "opacity": 0.95},
      "encoding": {
       "color": {"field": "g", "type": "nominal", "scale": {"domain": ["T1","T2","T3","T4","T5","T6","CK"], "range": ["#b3c1f7","#e6b0f2","#8cf2a6","#00bcf2","#8c9cf2","#f7aef0","#33c78a"]}, "legend": null}
      }},
     {"data": {"name": "labB"},
      "mark": {"type": "text", "fontSize": 10, "color": "#222"},
      "encoding": {"text": {"field": "lab"}}}
    ]}
  ], "spacing": 10},
  {"hconcat": [
   {"title": {"text": "(C)", "offset": 5},
    "width": 194, "height": 159,
    "encoding": {
     "x": {"field": "t", "type": "quantitative", "scale": {"type": "log", "domain": [0.01, 1000], "nice": false},
      "axis": {"title": "Time (ms)", "labelPadding": 1, "titlePadding": 1, "values": [0.01,0.02,0.03,0.04,0.05,0.06,0.07,0.08,0.09,0.1,0.2,0.3,0.4,0.5,0.6,0.7,0.8,0.9,1,2,3,4,5,6,7,8,9,10,20,30,40,50,60,70,80,90,100,200,300,400,500,600,700,800,900,1000], "format": "~g",
       "labelExpr": "indexof([0.01,0.1,1,10,100,1000], datum.value) >= 0 ? datum.label : ''",
       "gridOpacity": {"condition": {"test": "indexof([0.01,0.1,1,10,100,1000], datum.value) >= 0", "value": 1}, "value": 0},
       "tickSize": {"condition": {"test": "indexof([0.01,0.1,1,10,100,1000], datum.value) >= 0", "value": 3}, "value": 2}}},
     "y": {"field": "v", "type": "quantitative", "scale": {"domain": [0, 1.104], "nice": false},
      "axis": {"title": "Vₜ = (Fₜ − Fₒ)/(Fₘ − Fₒ)", "values": [0, 0.2, 0.4, 0.6, 0.8, 1.0], "format": ".1f", "titlePadding": 1}}
    },
    "layer": [
     {"data": {"name": "C"},
      "mark": {"type": "line", "strokeWidth": 1.6, "interpolate": "monotone", "opacity": 0.95},
      "encoding": {
       "color": {"field": "g", "type": "nominal", "scale": {"domain": ["T1","T2","T3","T4","T5","T6","CK"], "range": ["#b3c1f7","#e6b0f2","#8cf2a6","#00bcf2","#8c9cf2","#f7aef0","#33c78a"]}, "legend": null}
      }},
     {"data": {"name": "cRules"},
      "mark": {"type": "rule", "strokeDash": [4, 3], "color": "#333", "strokeWidth": 1},
      "encoding": {"y": {"datum": 0}, "y2": {"datum": 1.05}}},
     {"data": {"name": "cRules"},
      "mark": {"type": "text", "fontSize": 10, "color": "#222", "align": "right", "dx": -3},
      "encoding": {"text": {"field": "lab"}}}
    ]},
   {"title": {"text": "(D)", "offset": 0},
    "width": 191, "height": 159,
    "encoding": {
     "x": {"field": "t", "type": "quantitative", "scale": {"domain": [0.01, 2], "nice": false, "zero": false},
      "axis": {"title": "Time (ms)", "labelPadding": 1, "titlePadding": 1, "values": [0.01, 0.5, 1, 1.5, 2], "labelExpr": "datum.value == 0.01 ? '0.01' : format(datum.value, '.1f')"}}
    },
    "layer": [
     {"data": {"name": "W"},
      "mark": {"type": "line", "strokeWidth": 1.1, "interpolate": "monotone", "opacity": 0.85},
      "encoding": {
       "y": {"field": "v", "type": "quantitative", "scale": {"domain": [0, 1.1], "nice": false},
        "axis": {"title": "Wₒⱼ = (Fₜ − Fₒ)/(Fⱼ − Fₒ)", "values": [0, 0.2, 0.4, 0.6, 0.8, 1.0], "format": ".1f", "titlePadding": 1}},
       "color": {"field": "g", "type": "nominal", "scale": {"domain": ["T1","T2","T3","T4","T5","T6","CK"], "range": ["#b3c1f7","#e6b0f2","#8cf2a6","#00bcf2","#8c9cf2","#f7aef0","#33c78a"]}, "legend": null}
      }},
     {"data": {"name": "dW"},
      "encoding": {
       "y": {"field": "v", "type": "quantitative", "scale": {"domain": [-0.1, 0.5], "nice": false, "zero": false},
        "axis": {"orient": "right", "title": "ΔWₒⱼ", "titleAngle": 270, "titleBaseline": "top", "values": [-0.1, 0, 0.1, 0.2, 0.3, 0.4, 0.5], "format": ".1f", "grid": false}},
       "color": {"field": "g", "type": "nominal", "scale": {"domain": ["T1","T2","T3","T4","T5","T6","CK"], "range": ["#b3c1f7","#e6b0f2","#8cf2a6","#00bcf2","#8c9cf2","#f7aef0","#33c78a"]}, "legend": null}
      },
      "layer": [
       {"mark": {"type": "line", "strokeWidth": 1.5, "interpolate": "monotone"}},
       {"mark": {"type": "point", "filled": true, "size": 16, "opacity": 1},
        "encoding": {
         "shape": {"field": "g", "type": "nominal", "scale": {"domain": ["T1","T2","T3","T4","T5","T6","CK"], "range": ["square","triangle-left","triangle-up","triangle-down","diamond","circle","triangle-right"]}, "legend": null}
        }}
      ]}
    ],
    "resolve": {"scale": {"y": "independent"}}}
  ], "spacing": 8}
 ], "spacing": 12},
 {"title": {"text": "x", "color": "rgba(0,0,0,0)", "fontSize": 10, "offset": 6},
  "width": 10, "height": 362,
  "view": {"stroke": "#555", "strokeWidth": 1},
  "data": {"name": "leg"},
  "mark": {"type": "rect"},
  "encoding": {
   "y": {"field": "g", "type": "nominal", "sort": ["T1","T2","T3","T4","T5","T6","CK"], "scale": {"paddingInner": 0, "paddingOuter": 0},
    "axis": {"orient": "right", "title": null, "domain": false, "tickSize": 3, "labelFontSize": 9, "labelPadding": 3, "grid": false}},
   "x": {"datum": 0, "type": "quantitative", "scale": {"domain": [0, 1]}, "axis": null},
   "x2": {"datum": 1},
   "color": {"field": "g", "type": "nominal", "scale": {"domain": ["T1","T2","T3","T4","T5","T6","CK"], "range": ["#b3c1f7","#e6b0f2","#8cf2a6","#00bcf2","#8c9cf2","#f7aef0","#33c78a"]}, "legend": null}
  }}
]
}
